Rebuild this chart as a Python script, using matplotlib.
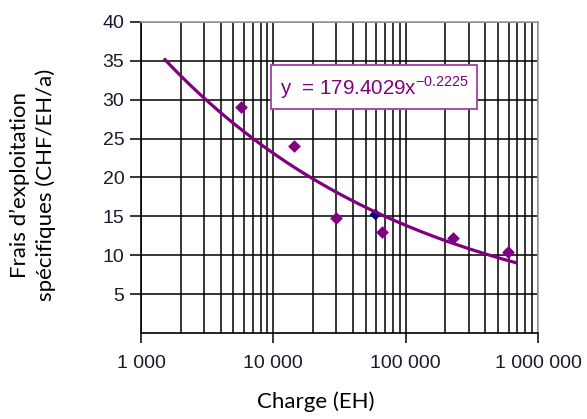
import matplotlib
matplotlib.use("Agg")
from matplotlib import pyplot as plt
from matplotlib.ticker import FixedLocator, NullFormatter, LogLocator
import numpy as np

# data
charge = [5700, 14300, 29700, 66000, 226000, 590000]
frais = [29.1, 24.1, 14.8, 13.0, 12.2, 10.4]
charge_blue = [59000]
frais_blue = [15.3]

# power trendline y = a * x^b shown in the chart
coef_a = 179.4029
coef_b = -0.2225
trend_start, trend_end = 1490, 695000

x_ticks = [1e3, 1e4, 1e5, 1e6]
x_labels = ["1 000", "10 000", "100 000", "1 000 000"]
y_ticks = [5, 10, 15, 20, 25, 30, 35, 40]

purple = "#800080"
plt.rcParams['font.family'] = ['Liberation Sans', 'DejaVu Sans']

fig = plt.figure(figsize=(5.87, 4.19), dpi=100)
ax = fig.add_axes([0.2402, 0.2053, 0.6763, 0.7422])
ax.set_xscale('log')
ax.set_xlim(1e3, 1e6)
ax.set_ylim(0, 40)

ax.xaxis.set_major_locator(FixedLocator(x_ticks))
ax.xaxis.set_minor_locator(LogLocator(base=10, subs=np.arange(2, 10)))
ax.xaxis.set_minor_formatter(NullFormatter())
ax.set_xticklabels(x_labels)
ax.set_yticks(y_ticks)

ax.grid(True, which='both', axis='x', color='black', linewidth=1.1)
ax.grid(True, which='major', axis='y', color='black', linewidth=1.1)
ax.set_axisbelow(True)

ax.tick_params(axis='x', which='major', direction='out', length=7, width=1.1,
               labelsize=14, pad=9, colors='black', labelcolor='#1a1a2e')
ax.tick_params(axis='x', which='minor', length=0)
ax.tick_params(axis='y', direction='out', length=8, width=1.1,
               labelsize=14, pad=4, labelcolor='#1a1a2e')

for side in ['top', 'right']:
    ax.spines[side].set_color('#a0a0a0')
    ax.spines[side].set_linewidth(1.2)
for side in ['left', 'bottom']:
    ax.spines[side].set_color('black')
    ax.spines[side].set_linewidth(1.2)

ax.scatter(charge, frais, marker='D', s=42, color=purple, zorder=3, linewidths=0)
ax.scatter(charge_blue, frais_blue, marker='D', s=36, color='#000080', zorder=3, linewidths=0)

xs = np.logspace(np.log10(trend_start), np.log10(trend_end), 200)
ax.plot(xs, coef_a * xs ** coef_b, color=purple, linewidth=2.3, zorder=4,
        solid_capstyle='butt')

ax.text(11200, 31.6, "y  = 179.4029x$^{\\mathregular{-0.2225}}$",
        fontsize=14.8, color=purple, va='center', ha='left', zorder=6,
        bbox=dict(boxstyle='square,pad=0.42', facecolor='white',
                  edgecolor='#a040a0', linewidth=1.3))

label_font = ['Lato', 'DejaVu Sans']
fig.text(316 / 587, 1 - 402 / 419, "Charge (EH)", family=label_font,
         fontsize=16, ha='center', va='center')
fig.text(33 / 587, 1 - 185 / 419, "Frais d’exploitation\nspécifiques (CHF/EH/a)",
         family=label_font, fontsize=16, ha='center', va='center',
         rotation=90, linespacing=1.3, multialignment='center')

fig.savefig("out.png", dpi=100)
